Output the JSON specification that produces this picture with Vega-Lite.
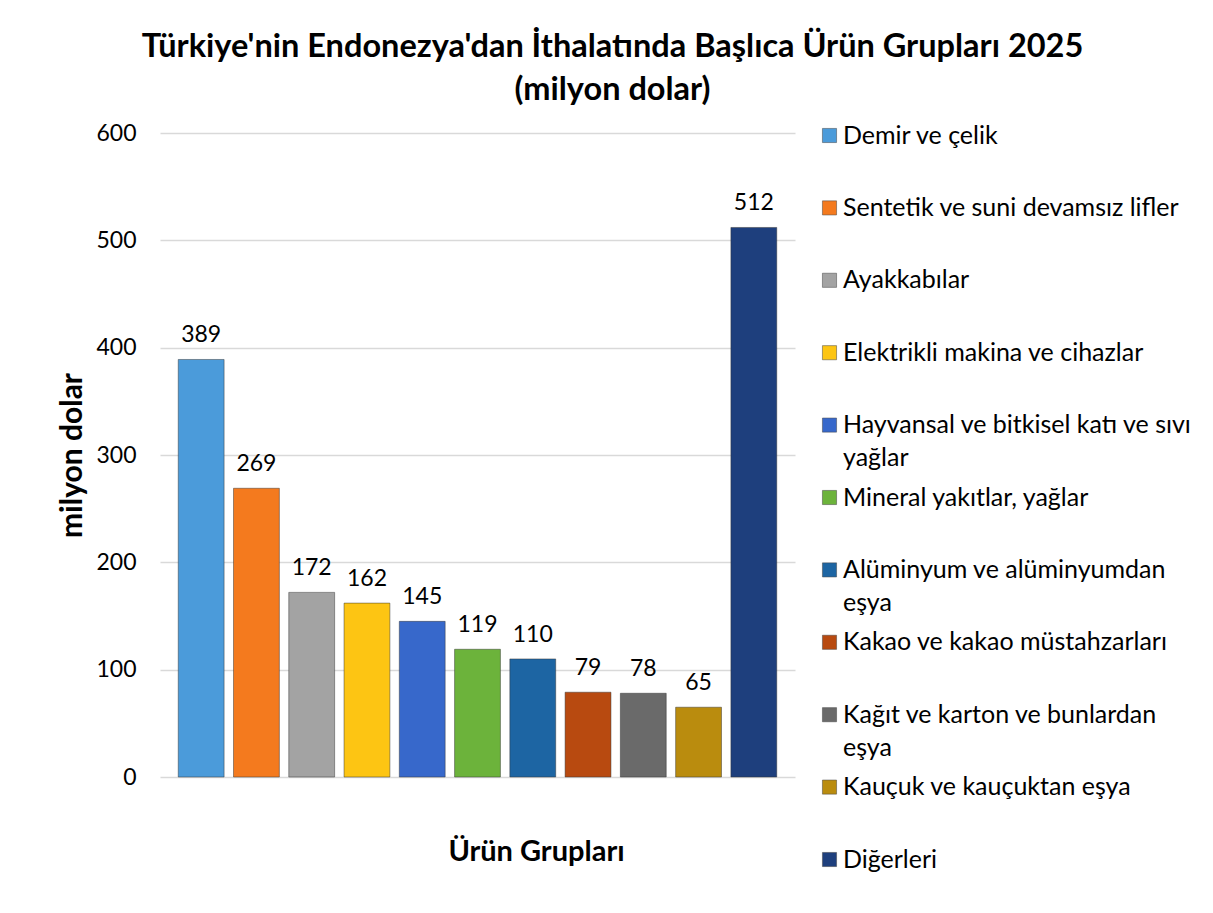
{
  "$schema": "https://vega.github.io/schema/vega-lite/v6.json",
  "width": 635,
  "height": 644,
  "autosize": {"type": "none"},
  "padding": {"left": 160, "top": 133, "right": 418, "bottom": 136},
  "background": "white",
  "config": {
    "font": "Lato",
    "view": {"stroke": null}
  },
  "title": {
    "text": ["Türkiye'nin Endonezya'dan İthalatında Başlıca Ürün Grupları 2025", "(milyon dolar)"],
    "font": "Lato",
    "fontSize": 32.5,
    "fontWeight": "bold",
    "color": "#000000",
    "anchor": "middle",
    "frame": "group",
    "dx": 135,
    "offset": 16,
    "lineHeight": 43
  },
  "data": {
    "values": [
      {"grup": "Demir ve çelik", "deger": 389},
      {"grup": "Sentetik ve suni devamsız lifler", "deger": 269},
      {"grup": "Ayakkabılar", "deger": 172},
      {"grup": "Elektrikli makina ve cihazlar", "deger": 162},
      {"grup": "Hayvansal ve bitkisel katı ve sıvı yağlar", "deger": 145},
      {"grup": "Mineral yakıtlar, yağlar", "deger": 119},
      {"grup": "Alüminyum ve alüminyumdan eşya", "deger": 110},
      {"grup": "Kakao ve kakao müstahzarları", "deger": 79},
      {"grup": "Kağıt ve karton ve bunlardan eşya", "deger": 78},
      {"grup": "Kauçuk ve kauçuktan eşya", "deger": 65},
      {"grup": "Diğerleri", "deger": 512}
    ]
  },
  "encoding": {
    "x": {
      "field": "grup",
      "type": "nominal",
      "sort": null,
      "scale": {"paddingInner": 0.17, "paddingOuter": 0.33},
      "axis": {
        "labels": false,
        "ticks": false,
        "domain": false,
        "title": "Ürün Grupları",
        "titleFont": "Lato",
        "titleFontSize": 29,
        "titleFontWeight": "bold",
        "titleColor": "#000000",
        "titleX": 376,
        "titleAnchor": "middle",
        "titlePadding": 60
      }
    },
    "y": {
      "field": "deger",
      "type": "quantitative",
      "scale": {"domain": [0, 600]},
      "axis": {
        "values": [0, 100, 200, 300, 400, 500, 600],
        "ticks": false,
        "domain": false,
        "gridColor": "#D9D9D9",
        "gridWidth": 1.5,
        "labelFont": "Lato",
        "labelFontSize": 23,
        "labelColor": "#000000",
        "labelPadding": 24,
        "title": "milyon dolar",
        "titleFont": "Lato",
        "titleFontSize": 30,
        "titleFontWeight": "bold",
        "titleColor": "#000000",
        "titlePadding": 8
      }
    }
  },
  "layer": [
    {
      "mark": {"type": "bar", "stroke": "#333333", "strokeWidth": 0.8, "strokeOpacity": 0.6},
      "encoding": {
        "color": {
          "field": "grup",
          "type": "nominal",
          "sort": null,
          "scale": {
            "domain": ["Demir ve çelik", "Sentetik ve suni devamsız lifler", "Ayakkabılar", "Elektrikli makina ve cihazlar", "Hayvansal ve bitkisel katı ve sıvı yağlar", "Mineral yakıtlar, yağlar", "Alüminyum ve alüminyumdan eşya", "Kakao ve kakao müstahzarları", "Kağıt ve karton ve bunlardan eşya", "Kauçuk ve kauçuktan eşya", "Diğerleri"],
            "range": ["#4B9BDA", "#F47A1E", "#A3A3A3", "#FDC513", "#3768CB", "#6CB33B", "#1D65A3", "#B84A10", "#6A6A6A", "#BA8C0E", "#1E3F7D"]
          },
          "legend": {
            "title": null,
            "orient": "none",
            "legendX": 657,
            "legendY": -10,
            "symbolType": "square",
            "symbolSize": 200,
            "symbolStrokeColor": "#444444",
            "symbolStrokeWidth": 0.5,
            "labelFont": "Lato",
            "labelFontSize": 25,
            "labelColor": "#000000",
            "labelLimit": 420,
            "labelOffset": 1,
            "rowPadding": 13.4,
            "labelBaseline": "middle",
            "encode": {"labels": {"update": {"lineHeight": {"value": 33}}}},
            "labelExpr": "datum.label == 'Hayvansal ve bitkisel katı ve sıvı yağlar' ? ['Hayvansal ve bitkisel katı ve sıvı', 'yağlar'] : datum.label == 'Alüminyum ve alüminyumdan eşya' ? ['Alüminyum ve alüminyumdan', 'eşya'] : datum.label == 'Kağıt ve karton ve bunlardan eşya' ? ['Kağıt ve karton ve bunlardan', 'eşya'] : [datum.label, ' ']"
          }
        }
      }
    },
    {
      "mark": {"type": "text", "baseline": "bottom", "dy": -12, "font": "Lato", "fontSize": 23, "color": "#000000"},
      "encoding": {
        "text": {"field": "deger", "type": "quantitative"}
      }
    }
  ]
}
